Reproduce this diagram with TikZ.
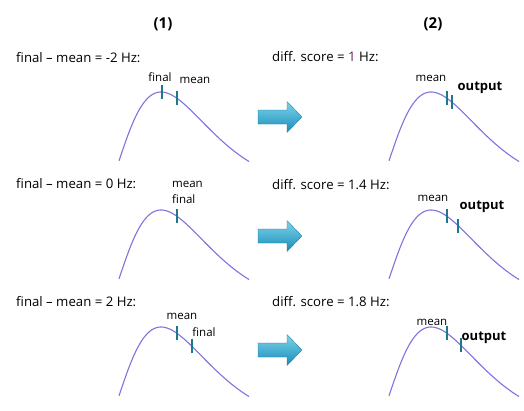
\documentclass[tikz,border=0pt]{standalone}
\usepackage{fontspec}
\setmainfont{Open Sans}
\definecolor{curveblue}{RGB}{125,115,225}
\definecolor{tickteal}{RGB}{30,120,140}
\definecolor{arrowtop}{RGB}{125,212,235}
\definecolor{arrowbot}{RGB}{25,140,185}
\definecolor{numpurple}{RGB}{95,30,95}

% skewed density curve whose peak sits at (#1,#2)
\newcommand\densitycurve[2]{%
  \draw[distcurve] plot[domain=15:145,samples=80,smooth] ({#1+\x-57},{#2+drop(\x)});}
% short tick on the curve with peak (#1,#2), #3 units right of the peak
\newcommand\curvetick[3]{%
  \draw[marker] ({#1+#3},{#2+drop(57+#3)-7}) -- ({#1+#3},{#2+drop(57+#3)+7});}
% block arrow pointing right, tip at (#1,#2)
\newcommand\blockarrow[2]{%
  \path[bigarrow] (#1-44,#2-7) -- (#1-15,#2-7) -- (#1-15,#2-15.5) -- (#1,#2)
    -- (#1-15,#2+15.5) -- (#1-15,#2+7) -- (#1-44,#2+7) -- cycle;}

\begin{document}
\begin{tikzpicture}[x=1pt,y=-1pt,
  declare function={drop(\u)=98.6*(1-(\u/57)^2*exp(2*(1-\u/57)));},
  title/.style={font=\fontsize{15}{17}\selectfont\bfseries, inner sep=0},
  hdr/.style={font=\fontsize{13.2}{15}\selectfont, anchor=west, inner sep=0},
  lbl/.style={font=\fontsize{11.5}{13}\selectfont, inner sep=0},
  outlbl/.style={font=\fontsize{13}{15}\selectfont\bfseries, inner sep=0},
  distcurve/.style={draw=curveblue, line width=1.1pt},
  marker/.style={draw=tickteal, line width=1.4pt},
  bigarrow/.style={top color=arrowtop, bottom color=arrowbot, draw=arrowbot!85!black, line width=0.3pt}
]
\useasboundingbox (0,0) rectangle (524,410);

% column titles
\node[title] (col1) at (163,24) {(1)};
\node[title] (col2) at (433,24) {(2)};

% ---- row 1 ----
\node[hdr] (h1) at (16,58) {final – mean = -2 Hz:};
\densitycurve{161}{92}
\curvetick{161}{92}{1}
\curvetick{161}{92}{16}
\node[lbl] (f1) at (160,77) {final};
\node[lbl] (m1) at (195,80) {mean};
\blockarrow{302}{117}
\node[hdr] (d1) at (272,57) {diff. score = {\color{numpurple}1} Hz:};
\densitycurve{431}{92}
\curvetick{431}{92}{16}
\curvetick{431}{92}{21}
\node[lbl] (rm1) at (431,78) {mean};
\node[outlbl] (o1) at (480,88) {output};

% ---- row 2 ----
\node[hdr] (h2) at (16,184) {final – mean = 0 Hz:};
\densitycurve{161}{210}
\curvetick{161}{210}{16}
\node[lbl, anchor=west] (m2) at (172,184) {mean};
\node[lbl, anchor=west] (f2) at (172,199) {final};
\blockarrow{302}{236}
\node[hdr] (d2) at (272,185) {diff. score = 1.4 Hz:};
\densitycurve{431}{210}
\curvetick{431}{210}{16}
\curvetick{431}{210}{27}
\node[lbl] (rm2) at (433,198) {mean};
\node[outlbl] (o2) at (482,207) {output};

% ---- row 3 ----
\node[hdr] (h3) at (16,302) {final – mean = 2 Hz:};
\densitycurve{161}{327}
\curvetick{161}{327}{16}
\curvetick{161}{327}{31}
\node[lbl] (m3) at (182,316) {mean};
\node[lbl] (f3) at (204,332) {final};
\blockarrow{302}{350}
\node[hdr] (d3) at (272,302) {diff. score = 1.8 Hz:};
\densitycurve{431}{327}
\curvetick{431}{327}{16}
\curvetick{431}{327}{30}
\node[lbl] (rm3) at (432,322) {mean};
\node[outlbl] (o3) at (484,338) {output};
\end{tikzpicture}
\end{document}
